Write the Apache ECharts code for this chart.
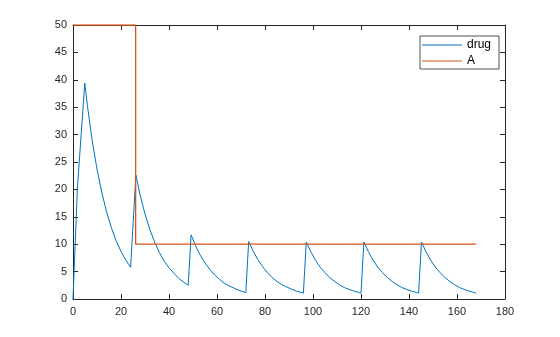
<!DOCTYPE html>
<html>
<head>
<meta charset="utf-8">
<script src="https://cdn.jsdelivr.net/npm/echarts@6/dist/echarts.min.js"></script>
<style>html,body{margin:0;padding:0;background:#fff}#c{width:560px;height:337px}</style>
</head>
<body>
<div id="c"></div>
<script>
var drugT = [0, 1.8, 4.9, 6, 8, 10, 12, 14, 16, 18, 20, 22, 24,
  26.2, 28, 30, 32, 34, 36, 38, 40, 42, 44, 46, 48,
  49.2, 51, 53, 55, 57, 59, 61, 63, 65, 67, 69, 71, 72,
  73.2, 75, 77, 79, 81, 83, 85, 87, 89, 91, 93, 95, 96,
  97.2, 99, 101, 103, 105, 107, 109, 111, 113, 115, 117, 119, 120,
  121.2, 123, 125, 127, 129, 131, 133, 135, 137, 139, 141, 143, 144,
  145.2, 147, 149, 151, 153, 155, 157, 159, 161, 163, 165, 167, 168];
var drugY = [0, 20, 39.4, 35.3, 28.9, 23.7, 19.4, 15.9, 13.0, 10.6, 8.7, 7.1, 5.8,
  22.6, 18.9, 15.5, 12.7, 10.4, 8.5, 6.9, 5.7, 4.7, 3.8, 3.1, 2.5,
  11.7, 9.8, 8.0, 6.6, 5.4, 4.4, 3.6, 2.9, 2.4, 2.0, 1.6, 1.3, 1.2,
  10.5, 8.8, 7.2, 5.9, 4.8, 3.9, 3.2, 2.6, 2.2, 1.8, 1.45, 1.2, 1.07,
  10.4, 8.7, 7.1, 5.8, 4.8, 3.9, 3.2, 2.6, 2.1, 1.75, 1.45, 1.2, 1.07,
  10.4, 8.7, 7.1, 5.8, 4.8, 3.9, 3.2, 2.6, 2.1, 1.75, 1.45, 1.2, 1.07,
  10.4, 8.7, 7.1, 5.8, 4.8, 3.9, 3.2, 2.6, 2.1, 1.75, 1.45, 1.2, 1.07];
var aT = [0, 26.1, 26.1, 168];
var aY = [50, 50, 10, 10];
var seriesNames = ['drug', 'A'];

function pairs(xs, ys) { return xs.map(function (x, i) { return [x, ys[i]]; }); }

var axisCol = '#262626';
var labelStyle = { color: axisCol, fontSize: 11, fontFamily: 'Liberation Sans, Arial, sans-serif' };
function xAx(pos, show) {
  return { type: 'value', min: 0, max: 180, interval: 20, position: pos,
    axisLine: { show: true, onZero: false, lineStyle: { color: axisCol, width: 1 } },
    axisTick: { show: true, inside: true, length: 5, lineStyle: { color: axisCol } },
    axisLabel: Object.assign({ show: show, margin: 7 }, labelStyle),
    splitLine: { show: false } };
}
function yAx(pos, show) {
  return { type: 'value', min: 0, max: 50, interval: 5, position: pos,
    axisLine: { show: true, onZero: false, lineStyle: { color: axisCol, width: 1 } },
    axisTick: { show: true, inside: true, length: 5, lineStyle: { color: axisCol } },
    axisLabel: Object.assign({ show: show, margin: 6 }, labelStyle),
    splitLine: { show: false } };
}

var chart = echarts.init(document.getElementById('c'), null, { renderer: 'canvas' });
chart.setOption({
  animation: false,
  backgroundColor: '#fff',
  grid: { left: 73, right: 55, top: 25, bottom: 38 },
  xAxis: [xAx('bottom', true), xAx('top', false)],
  yAxis: [yAx('left', true), yAx('right', false)],
  legend: {
    orient: 'vertical', left: 420, top: 36,
    backgroundColor: '#fff', borderColor: axisCol, borderWidth: 0.8,
    padding: [3, 8, 2, 2], itemGap: 4, itemWidth: 40, itemHeight: 10,
    textStyle: { color: '#000', fontSize: 12, fontFamily: 'Liberation Sans, Arial, sans-serif' },
    data: [{ name: seriesNames[0], icon: 'path://M0,0L40,0L40,1L0,1Z' }, { name: seriesNames[1], icon: 'path://M0,0L40,0L40,1L0,1Z' }]
  },
  series: [
    { name: seriesNames[0], type: 'line', data: pairs(drugT, drugY), showSymbol: false, symbol: 'none',
      lineStyle: { color: '#0072BD', width: 1 }, itemStyle: { color: '#0072BD' } },
    { name: seriesNames[1], type: 'line', data: pairs(aT, aY), showSymbol: false, symbol: 'none',
      lineStyle: { color: '#D95319', width: 1.3 }, itemStyle: { color: '#D95319' } }
  ]
});
</script>
</body>
</html>
